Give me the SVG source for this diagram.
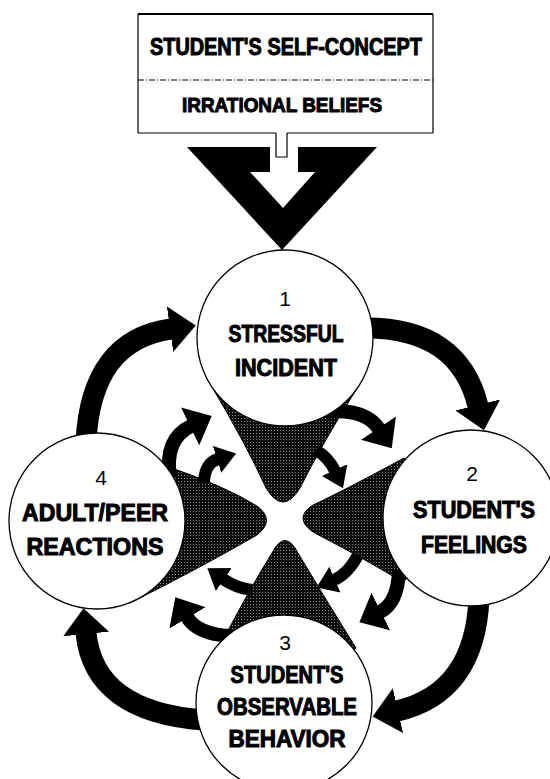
<svg xmlns="http://www.w3.org/2000/svg" width="550" height="779" viewBox="0 0 550 779">
<style>
.lbl{font-family:"Liberation Sans",Arial,sans-serif;font-weight:bold;font-size:23px;fill:#000;stroke:#000;stroke-width:1px;text-anchor:middle}
.num{font-family:"Liberation Sans",Arial,sans-serif;font-size:21px;fill:#000;text-anchor:middle}
.node{fill:#fff;stroke:#000;stroke-width:1.3}
.spike{fill:url(#stip);stroke:#000;stroke-width:1}
.big{fill:none;stroke:#000;stroke-width:21;marker-end:url(#hbig)}
.med{fill:none;stroke:#000;stroke-width:14;marker-end:url(#hmed)}
.sm{fill:none;stroke:#000;stroke-width:12;marker-end:url(#hsm)}
.box{fill:none;stroke:#000;stroke-width:1.2}
</style>
<defs>
<pattern id="stip" width="3" height="3" patternUnits="userSpaceOnUse">
<rect width="3" height="3" fill="#0c0c0c"/>
<rect x="1" y="1" width="1" height="1" fill="#8a8a8a"/>
</pattern>
<marker id="hbig" markerUnits="userSpaceOnUse" viewBox="0 -24 27 48" markerWidth="27" markerHeight="48" refX="1" refY="0" orient="auto">
<path d="M0,-23 L26,0 L0,23 Z" fill="#000"/>
</marker>
<marker id="hmed" markerUnits="userSpaceOnUse" viewBox="0 -22 25 44" markerWidth="25" markerHeight="44" refX="1" refY="0" orient="auto">
<path d="M0,-21 L24,0 L0,21 Z" fill="#000"/>
</marker>
<marker id="hsm" markerUnits="userSpaceOnUse" viewBox="0 -15 21 30" markerWidth="21" markerHeight="30" refX="1" refY="0" orient="auto">
<path d="M0,-14 L20,0 L0,14 Z" fill="#000"/>
</marker>
</defs>
<rect width="550" height="779" fill="#fff"/>

<g id="self-concept">
<line x1="138" y1="14" x2="433" y2="14" stroke="#000" stroke-width="2.2"/>
<line class="box" x1="138" y1="14" x2="138" y2="133"/>
<line class="box" x1="433" y1="14" x2="433" y2="133"/>
<line x1="138" y1="80" x2="433" y2="80" stroke="#000" stroke-width="1" stroke-dasharray="6 2 1 2"/>
<line class="box" x1="138" y1="133" x2="276" y2="133"/>
<line class="box" x1="287" y1="133" x2="433" y2="133"/>
<text class="lbl" x="286" y="55" textLength="272" lengthAdjust="spacingAndGlyphs">STUDENT'S SELF-CONCEPT</text>
<text class="lbl" x="282" y="112" style="font-size:20px" textLength="200" lengthAdjust="spacingAndGlyphs">IRRATIONAL BELIEFS</text>
<path d="M187 147 L270 147 L270 172 L250 172 L283 208 L315 172 L298 172 L298 147 L377 147 L282 250 Z" fill="#000"/>
<path d="M276 133 L276 157 L287 157 L287 133" fill="#fff" stroke="#000" stroke-width="1.2"/>
</g>

<g id="center-x">
<path class="spike" d="M212 387 Q246 444 266 488 Q283 516 300 488 Q322 444 356 390 L285 338 Z"/>
<path class="spike" d="M166 466 Q225 486 257 506 Q276 520 257 535 Q200 568 130 603 L97 521 Z"/>
<path class="spike" d="M404 458 Q345 490 313 505 Q293 518 313 532 Q358 555 403 582 L471 518 Z"/>
<path class="spike" d="M224 638 Q252 585 272 553 Q285 528 298 553 Q326 600 356 648 L284 703 Z"/>
</g>

<g id="connectors">
<path class="big" d="M86 442 Q91 340 171 329"/>
<path class="big" d="M366 328 Q459 328 478 406"/>
<path class="big" d="M479 598 Q475 693 397 711"/>
<path class="big" d="M204 720 Q94 712 86 633"/>
<path class="med" d="M170 478 Q164 439 191 426"/>
<path class="sm" d="M204 482 Q205 463 218 459"/>
<path class="med" d="M326 412 Q365 408 379 429"/>
<path class="sm" d="M316 450 Q329 458 335 471"/>
<path class="sm" d="M358 555 Q348 574 334 580"/>
<path class="med" d="M399 570 Q398 603 380 612"/>
<path class="sm" d="M252 590 Q236 588 223 579"/>
<path class="med" d="M230 636 Q197 634 187 617"/>
</g>

<g id="node1">
<circle class="node" cx="285" cy="338" r="88"/>
<text class="num" x="285" y="306">1</text>
<text class="lbl" x="286" y="342" textLength="115" lengthAdjust="spacingAndGlyphs">STRESSFUL</text>
<text class="lbl" x="286" y="376" textLength="102" lengthAdjust="spacingAndGlyphs">INCIDENT</text>
</g>
<g id="node2">
<circle class="node" cx="471" cy="518" r="88"/>
<text class="num" x="472" y="481">2</text>
<text class="lbl" x="474" y="518" textLength="122" lengthAdjust="spacingAndGlyphs">STUDENT'S</text>
<text class="lbl" x="474" y="553" textLength="106" lengthAdjust="spacingAndGlyphs">FEELINGS</text>
</g>
<g id="node3">
<circle class="node" cx="284" cy="703" r="88"/>
<text class="num" x="285" y="650">3</text>
<text class="lbl" x="287" y="683" textLength="113" lengthAdjust="spacingAndGlyphs">STUDENT'S</text>
<text class="lbl" x="287" y="715" textLength="140" lengthAdjust="spacingAndGlyphs">OBSERVABLE</text>
<text class="lbl" x="287" y="747" textLength="117" lengthAdjust="spacingAndGlyphs">BEHAVIOR</text>
</g>
<g id="node4">
<circle class="node" cx="97" cy="521" r="88"/>
<text class="num" x="101" y="485">4</text>
<text class="lbl" x="95" y="521" textLength="146" lengthAdjust="spacingAndGlyphs">ADULT/PEER</text>
<text class="lbl" x="95" y="555" textLength="137" lengthAdjust="spacingAndGlyphs">REACTIONS</text>
</g>
</svg>
